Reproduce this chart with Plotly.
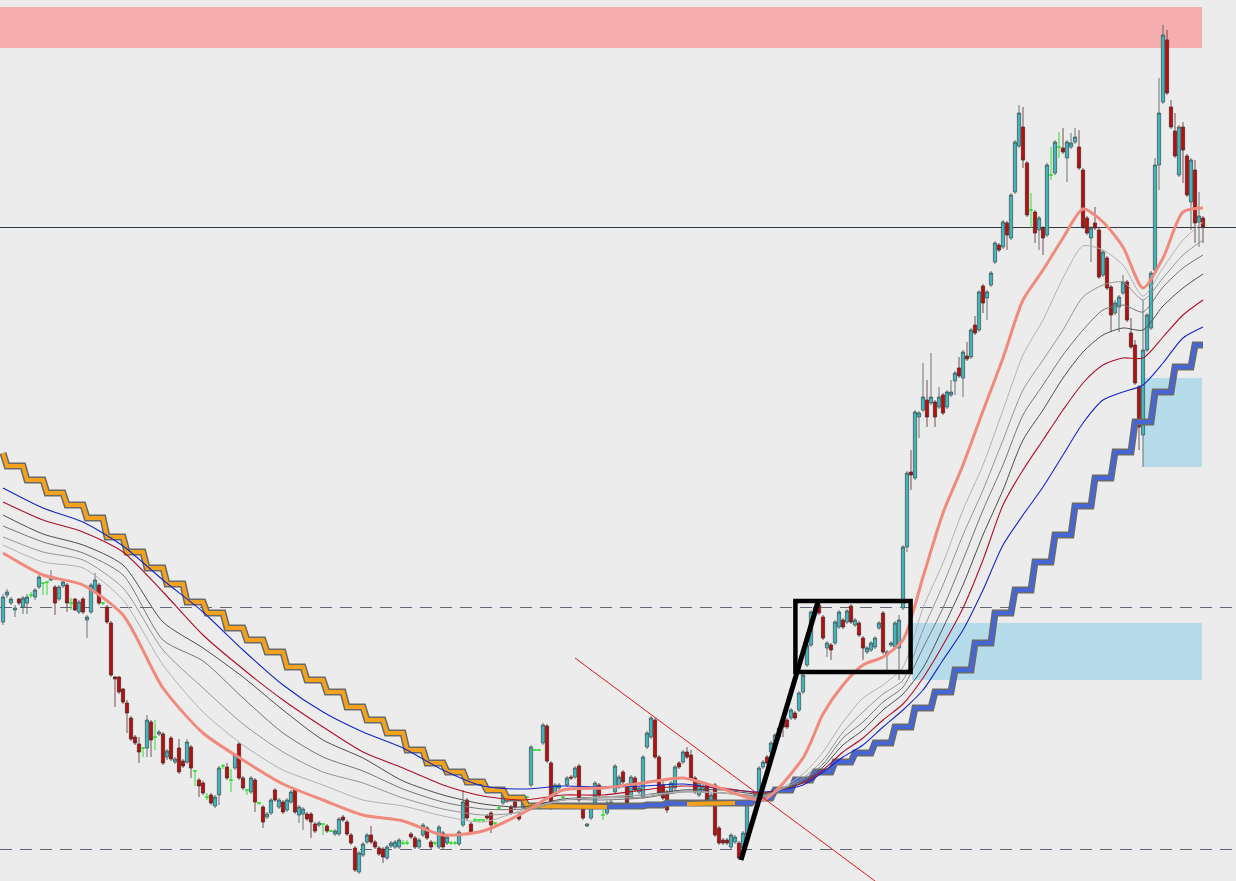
import plotly.graph_objects as go

# ---------------- Candles (one bar per trading day) ----------------
opens = [278,305,297,290,301,293,297,305,303,313,
         317,318,320,313,301,314,315,297,301,288,
         301,280,288,308,315,297,293,277,223,223,
         211,197,182,163,156,152,152,178,163,166,
         166,143,162,138,152,139,138,153,129,120,
         117,103,105,94,105,134,133,120,132,156,
         122,110,108,120,97,93,83,87,110,93,
         98,90,98,110,85,86,86,86,76,75,
         76,74,69,66,66,83,78,65,52,28,
         45,58,65,58,52,51,42,54,53,53,
         57,57,66,62,53,65,72,58,57,53,
         67,57,57,57,56,75,100,76,80,80,
         80,84,87,77,92,97,103,93,98,85,
         93,103,115,150,150,157,174,137,105,112,
         103,115,123,123,134,95,74,82,95,115,
         85,87,95,108,113,128,115,103,122,108,
         103,153,163,180,143,115,108,108,112,137,
         138,148,145,122,105,109,115,98,115,72,
         60,60,53,58,57,52,65,98,105,105,
         133,143,148,155,163,180,180,182,187,190,
         208,235,255,287,295,283,252,255,257,273,
         280,278,294,275,277,262,248,250,253,272,
         287,245,255,253,252,292,353,428,422,483,
         490,500,497,498,493,505,493,505,519,532,
         522,544,543,575,570,614,602,615,638,655,
         653,677,662,708,754,773,737,690,688,670,
         672,665,725,727,753,752,742,753,758,753,
         730,682,662,677,670,625,642,613,587,593,
         607,618,567,555,513,465,550,572,630,735,
         798,860,793,769,725,773,744,698,730,678,
         682]
highs = [306,311,303,295,302,304,306,308,312,325,
         318,319,330,315,315,320,317,302,302,300,
         303,285,317,327,317,298,295,279,224,224,
         212,200,184,165,163,153,185,180,180,170,
         168,151,164,143,161,141,161,155,130,122,
         119,107,107,105,134,136,137,131,147,158,
         124,111,124,122,98,95,88,102,112,102,
         100,102,110,112,95,93,88,88,78,79,
         77,76,70,71,83,85,80,67,54,49,
         58,67,74,60,54,53,55,59,60,62,
         60,60,68,64,62,77,74,60,59,75,
         69,65,59,59,70,110,102,78,82,81,
         81,86,89,78,94,112,105,95,100,87,
         105,104,155,151,151,177,176,139,117,117,
         104,124,125,134,136,97,77,97,119,117,
         90,99,100,136,125,130,117,125,124,114,
         145,169,184,182,145,120,110,119,135,139,
         150,153,150,124,120,116,117,107,117,74,
         62,62,67,65,59,69,99,105,107,134,
         140,145,159,167,174,182,182,192,189,209,
         227,257,290,296,297,285,259,257,280,290,
         282,291,296,282,279,264,254,259,264,279,
         289,250,259,279,285,355,429,450,490,489,
         537,520,547,500,513,507,510,520,529,543,
         550,558,572,584,610,616,610,629,659,657,
         680,679,707,760,795,793,739,707,690,684,
         674,737,753,760,768,772,760,767,772,770,
         732,684,674,693,672,650,644,615,600,605,
         625,620,582,560,515,600,587,629,742,822,
         875,870,800,787,775,778,746,742,740,708,
         684]
lows = [275,302,295,283,295,286,286,302,300,311,
        305,305,319,285,299,312,288,290,289,286,
        286,262,286,306,295,295,276,223,193,206,
        196,167,159,155,137,143,143,143,150,164,
        135,140,139,136,126,132,136,122,114,103,
        105,100,95,92,95,131,120,108,130,120,
        110,105,106,88,95,72,81,85,98,91,
        86,88,96,86,77,70,79,62,67,73,
        65,67,68,64,64,78,64,55,28,26,
        43,56,56,51,44,37,40,52,51,51,
        55,55,61,51,51,63,60,51,54,51,
        51,55,55,55,54,73,80,66,78,78,
        78,80,67,75,90,95,97,85,91,79,
        91,102,113,149,149,155,137,90,103,110,
        100,113,120,121,98,80,73,80,93,103,
        80,85,93,106,111,116,95,101,108,106,
        101,151,161,141,105,100,87,106,107,131,
        136,141,120,106,103,107,98,96,63,55,
        55,55,51,56,40,50,63,96,100,103,
        131,135,146,153,161,163,171,180,180,188,
        206,233,253,285,285,260,243,240,255,271,
        271,276,276,273,263,240,246,248,251,270,
        246,230,253,251,220,290,348,410,420,462,
        488,473,495,473,491,485,491,503,505,522,
        503,539,541,565,568,587,580,613,636,648,
        651,650,660,706,752,732,683,672,657,650,
        645,663,720,725,742,746,718,751,756,730,
        671,665,638,670,621,623,610,568,585,568,
        605,578,551,515,450,433,548,570,628,710,
        796,805,771,742,723,717,703,670,657,653,
        657]
closes = [303,308,301,292,297,302,303,305,310,323,
          317,318,323,297,313,318,297,297,290,298,
          288,283,315,320,297,297,278,225,221,208,
          198,187,161,157,148,152,180,160,163,168,
          137,149,141,141,128,134,158,132,129,114,
          107,103,97,103,132,134,122,120,145,122,
          112,110,122,98,97,78,86,100,100,100,
          88,100,108,88,93,91,81,78,69,77,
          76,69,69,69,81,80,66,57,30,47,
          56,65,58,53,46,43,53,57,58,60,
          57,57,63,53,60,75,62,53,57,73,
          53,63,57,57,68,98,82,68,80,80,
          80,82,75,77,92,110,99,87,93,81,
          103,103,153,150,150,175,139,92,115,115,
          103,122,122,132,100,82,76,95,117,105,
          85,97,98,134,123,118,97,123,110,112,
          143,167,182,143,107,102,90,117,133,133,
          148,143,122,108,118,114,100,105,65,57,
          57,57,65,63,42,67,97,103,102,132,
          138,137,157,165,172,173,173,190,182,207,
          225,255,288,293,287,262,257,250,278,288,
          273,289,278,280,265,252,252,257,262,277,
          248,248,257,277,280,353,427,425,488,487,
          503,483,503,483,503,487,508,508,527,524,
          548,541,570,567,608,597,608,627,657,650,
          678,665,705,758,787,740,685,690,667,682,
          662,735,725,758,753,748,758,757,763,732,
          673,667,672,672,623,648,612,585,597,603,
          618,580,553,517,473,550,585,627,735,787,
          865,807,773,744,773,750,705,740,677,684,
          673]

# ---------------- Moving averages (sampled at these bars) ----------------
ma_bars = [0,10,20,30,40,50,60,70,80,90,100,110,120,130,140,150,160,170,180,190,200,
           205,210,215,220,225,230,235,240,245,250,255,260,265,270,275,280,285,290,295,300]
ma_salmon = [347,325,315,285,212,167,140,116,100,85,79,65,69,87,110,112,117,122,111,100,142,
             186,215,235,243,260,323,387,435,489,542,600,630,662,691,678,653,612,642,688,692]
ma_lgray = [355,338,332,300,235,188,155,130,115,100,94,84,78,90,100,103,105,108,107,103,126,
            148,178,202,215,233,292,337,390,435,490,545,580,622,654,650,635,604,632,660,678]
ma_gray2 = [363,348,340,312,250,212,176,148,128,117,102,91,85,88,100,102,103,109,107,104,122,
            140,168,188,206,220,270,315,365,410,460,510,540,570,603,615,618,600,622,645,660]
ma_gray1 = [374,358,347,325,260,239,202,167,143,129,111,98,91,91,100,100,102,108,107,105,120,
            136,162,178,198,213,252,292,340,390,435,485,515,545,570,590,595,588,613,632,645]
ma_dgray = [385,366,355,335,278,252,223,190,160,142,119,105,96,93,101,103,105,110,110,106,118,
            133,155,170,190,206,232,272,315,365,410,460,490,522,548,565,572,570,594,612,626]
ma_crimson = [398,380,368,348,308,265,231,200,173,148,132,115,104,100,105,105,110,114,112,107,117,
              130,148,162,180,196,222,255,292,340,395,430,460,490,517,535,542,542,563,585,600]
ma_blue = [412,392,378,354,320,288,250,215,188,168,152,130,114,111,114,113,114,116,111,108,115,
           128,143,155,173,190,210,240,270,310,355,385,413,445,477,500,508,515,537,562,573]

# ---------------- Weekly (higher timeframe) stepped average ----------------
step_len = [1,
            5,5,5,5,5,5,5,5,5,5, 5,5,5,5,5,5,5,5,5,5,
            5,5,5,5,5,5,5,5,5,5, 5,5,5,5,5,5,
            2,
            5,5,5,5,5,5,5,5,5,5, 5,5,5,5,5,5,5,5,5,5, 5,5,5,
            3]
step_level = [447,
              434,420,407,395,382,363,348,332,316,298,
              287,272,260,248,233,220,208,193,180,167,
              150,137,128,118,110,102,94,94,93,93,
              93,94,95,97,96,96,
              96,
              97,102,110,120,128,138,147,157,173,192,
              208,230,257,287,310,338,365,394,422,448,
              478,508,533,
              555]
step_side = (['res'] * 31 + ['sup'] * 4 + ['res'] * 3 + ['sup'] * 24)

# ---------------- Drawn objects (bar index / price) ----------------
supply_zone = [-0.75, 299.75, 852, 893]
demand_zone_1 = [227.25, 299.75, 220, 277]
demand_zone_2 = [285.0, 299.75, 433, 522]
flag_box = [198.1, 226.9, 228, 299]
impulse_line = [184.5, 40, 203.75, 298]
trend_line = [143, 242, 218, 19]
h_solid = 672.5
h_dashed = [292.5, 50.5]

assert len(opens) == len(highs) == len(lows) == len(closes) == 301
for arr in (ma_salmon, ma_lgray, ma_gray2, ma_gray1, ma_dgray, ma_crimson, ma_blue):
    assert len(arr) == len(ma_bars)
assert sum(step_len) == 301 and len(step_len) == len(step_level) == len(step_side)

bars = list(range(len(closes)))
fig = go.Figure()

# stepped line
step_series, side_series = [], []
for n, v, s in zip(step_len, step_level, step_side):
    step_series += [v] * n
    side_series += [s] * n

fig.add_trace(go.Scatter(x=bars, y=step_series, mode='lines',
                         line=dict(color='#6a6a6a', width=7), hoverinfo='skip'))
start = 0
for k in range(1, len(bars) + 1):
    if k == len(bars) or side_series[k] != side_series[start]:
        end = min(k, len(bars) - 1)
        col = '#f2a21c' if side_series[start] == 'res' else '#4666d6'
        fig.add_trace(go.Scatter(x=bars[start:end + 1], y=step_series[start:end + 1], mode='lines',
                                 line=dict(color=col, width=4), hoverinfo='skip'))
        start = k

# moving averages
for vals, col, w in [(ma_blue, '#1428c8', 1.1), (ma_crimson, '#b0102c', 1.1),
                     (ma_dgray, '#4e4e4e', 1), (ma_gray1, '#767676', 1),
                     (ma_gray2, '#969696', 1), (ma_lgray, '#b2b2b2', 1),
                     (ma_salmon, '#f08a7c', 3)]:
    fig.add_trace(go.Scatter(x=ma_bars, y=vals, mode='lines',
                             line=dict(color=col, width=w, shape='spline', smoothing=0.7),
                             hoverinfo='skip'))

# candles
main_idx = [i for i in bars if opens[i] != closes[i]]
doji_idx = [i for i in bars if opens[i] == closes[i]]
fig.add_trace(go.Candlestick(
    x=main_idx, open=[opens[i] for i in main_idx], high=[highs[i] for i in main_idx],
    low=[lows[i] for i in main_idx], close=[closes[i] for i in main_idx],
    increasing=dict(line=dict(color='#46585a', width=0.8), fillcolor='#3fb6be'),
    decreasing=dict(line=dict(color='#5a2a2a', width=0.8), fillcolor='#b41010'),
    whiskerwidth=0, hoverinfo='skip'))
fig.add_trace(go.Candlestick(
    x=doji_idx, open=[opens[i] for i in doji_idx], high=[highs[i] for i in doji_idx],
    low=[lows[i] for i in doji_idx], close=[closes[i] for i in doji_idx],
    increasing=dict(line=dict(color='#2ee02e', width=1), fillcolor='#2ee02e'),
    decreasing=dict(line=dict(color='#2ee02e', width=1), fillcolor='#2ee02e'),
    whiskerwidth=0, hoverinfo='skip'))

shapes = []
shapes.append(dict(type='rect', xref='x', yref='y', x0=supply_zone[0], x1=supply_zone[1],
                   y0=supply_zone[2], y1=supply_zone[3], fillcolor='#f5adae', line=dict(width=0), layer='below'))
for z in (demand_zone_1, demand_zone_2):
    shapes.append(dict(type='rect', xref='x', yref='y', x0=z[0], x1=z[1], y0=z[2], y1=z[3],
                       fillcolor='#b6dbeb', line=dict(width=0), layer='below'))
shapes.append(dict(type='line', xref='paper', yref='y', x0=0, x1=1, y0=h_solid, y1=h_solid,
                   line=dict(color='#2e3a44', width=1), layer='below'))
for h in h_dashed:
    shapes.append(dict(type='line', xref='paper', yref='y', x0=0, x1=1, y0=h, y1=h,
                       line=dict(color='#5e6878', width=1, dash='12px,8px'), layer='below'))
shapes.append(dict(type='line', xref='x', yref='y', x0=trend_line[0], y0=trend_line[1],
                   x1=trend_line[2], y1=trend_line[3], line=dict(color='#e01818', width=1)))
shapes.append(dict(type='rect', xref='x', yref='y', x0=flag_box[0], x1=flag_box[1],
                   y0=flag_box[2], y1=flag_box[3], line=dict(color='#000000', width=4.5)))
shapes.append(dict(type='line', xref='x', yref='y', x0=impulse_line[0], y0=impulse_line[1],
                   x1=impulse_line[2], y1=impulse_line[3], line=dict(color='#000000', width=5)))

fig.update_layout(
    width=1236, height=881, margin=dict(l=0, r=0, t=0, b=0),
    paper_bgcolor='#ececec', plot_bgcolor='#ececec', showlegend=False,
    boxgap=0.15, boxgroupgap=0.05,
    shapes=shapes,
    xaxis=dict(range=[-0.75, 308.25], visible=False, showgrid=False, zeroline=False,
               rangeslider=dict(visible=False)),
    yaxis=dict(range=[19, 900], visible=False, showgrid=False, zeroline=False),
)
fig.write_html("out.html", config={'displayModeBar': False},
               post_script="document.body.style.margin='0';")
